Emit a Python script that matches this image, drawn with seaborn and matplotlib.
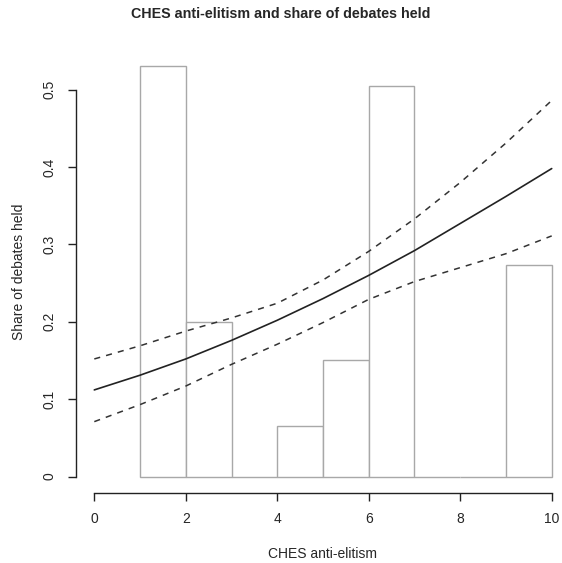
import numpy as np
import pandas as pd
import seaborn as sns
import matplotlib
matplotlib.use("Agg")
import matplotlib.pyplot as plt

## Data read from the reference
# Histogram of debate share by anti-elitism bin (bins of width 1 from 1 to 10)
bin_edges = [1, 2, 3, 4, 5, 6, 7, 8, 9, 10]
bin_heights = [0.530, 0.200, 0.0, 0.066, 0.151, 0.505, 0.0, 0.0, 0.273]

# Fitted curve and confidence band
fit_x = [0, 1, 2, 3, 4, 5, 6, 7, 8, 9, 10]
fit_y = [0.112, 0.131, 0.152, 0.176, 0.202, 0.230, 0.260, 0.292, 0.327, 0.362, 0.398]
upper_y = [0.152, 0.169, 0.188, 0.205, 0.224, 0.254, 0.291, 0.333, 0.380, 0.431, 0.486]
lower_y = [0.071, 0.093, 0.117, 0.145, 0.171, 0.199, 0.229, 0.252, 0.270, 0.288, 0.311]

x_ticks = [0, 2, 4, 6, 8, 10]
y_ticks = [0, 0.1, 0.2, 0.3, 0.4, 0.5]
y_tick_labels = ["0", "0.1", "0.2", "0.3", "0.4", "0.5"]

## Style
sns.set_style("white")
plt.rcParams['font.family'] = ['Liberation Sans', 'DejaVu Sans']

W, H = 562, 563
fig = plt.figure(figsize=(W / 100, H / 100), dpi=100)
# plot region in pixels (R-like, x axis runs off the right edge)
left, right, top, bottom = 76, 570, 50, 493
ax = fig.add_axes([left / W, (H - bottom) / H, (right - left) / W, (bottom - top) / H])

# Histogram bars
centers = [e + 0.5 for e in bin_edges[:-1]]
sns.histplot(x=centers, weights=bin_heights, bins=bin_edges, color="white",
             edgecolor="#a8a8a8", linewidth=1.0, alpha=1, ax=ax)

# Fit and confidence band
curves = pd.DataFrame({'x': fit_x, 'fit': fit_y, 'upper': upper_y, 'lower': lower_y})
sns.lineplot(data=curves, x='x', y='fit', color="#222222", linewidth=1.2, ax=ax)
for col in ['upper', 'lower']:
	sns.lineplot(data=curves, x='x', y=col, color="#333333", linewidth=1.1,
	             linestyle=(0, (4, 4)), ax=ax)

# Axes
ax.set_xlim(-0.4, 10.4)
ax.set_ylim(-0.0212, 0.5512)
for s in ['top', 'right']:
	ax.spines[s].set_visible(False)
for s in ['left', 'bottom']:
	ax.spines[s].set_color("#222222")
	ax.spines[s].set_linewidth(1.0)
ax.spines['left'].set_bounds(0, 0.5)
ax.spines['bottom'].set_bounds(0, 10)

ax.set_xticks(x_ticks)
ax.set_xticklabels([str(t) for t in x_ticks], fontsize=10)
ax.set_yticks(y_ticks)
ax.set_yticklabels(y_tick_labels, fontsize=10, rotation=90, va='center')
ax.tick_params(axis='both', direction='out', length=6, width=1.0, color="#222222",
               bottom=True, left=True, pad=8)

ax.set_xlabel("CHES anti-elitism", fontsize=10, labelpad=15)
ax.set_ylabel("Share of debates held", fontsize=10, labelpad=12)
fig.text(0.5, 1 - 14 / H, "CHES anti-elitism and share of debates held",
         ha='center', va='center', fontsize=10.3, fontweight='bold')

plt.savefig("out.png", dpi=100)
